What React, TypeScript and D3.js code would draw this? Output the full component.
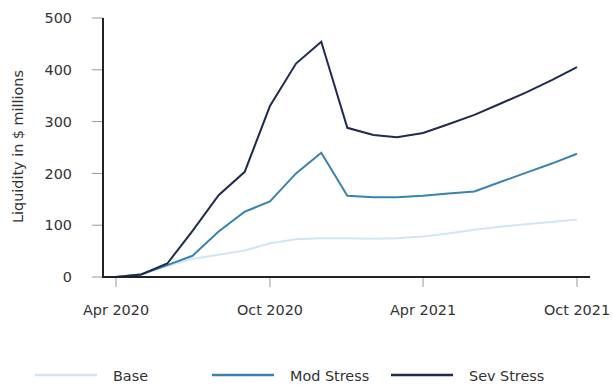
import React from "react";
import * as d3 from "d3";

// Monthly liquidity projections, Apr 2020 – Oct 2021 ($ millions)
const months: string[] = [
  "2020-04", "2020-05", "2020-06", "2020-07", "2020-08", "2020-09", "2020-10",
  "2020-11", "2020-12", "2021-01", "2021-02", "2021-03", "2021-04", "2021-05",
  "2021-06", "2021-07", "2021-08", "2021-09", "2021-10",
];
const baseValues: number[] = [0, 6, 21, 35, 43, 51, 65, 73, 75, 75, 74, 75, 78, 84, 91, 97, 102, 106, 111];
const modValues: number[] = [0, 5, 23, 41, 88, 126, 146, 200, 240, 157, 154, 154, 157, 161, 165, 183, 201, 219, 238];
const sevValues: number[] = [0, 5, 26, 89, 158, 203, 330, 412, 454, 288, 274, 270, 278, 295, 313, 334, 356, 380, 405];

const seriesNames: string[] = ["Base", "Mod Stress", "Sev Stress"];
const seriesColors: string[] = ["#cfe7f4", "#3b82b3", "#1e2b52"];
const yTicks: number[] = [0, 100, 200, 300, 400, 500];
const xTickLabels: string[] = ["Apr 2020", "Oct 2020", "Apr 2021", "Oct 2021"];
const xTickDates: string[] = ["2020-04", "2020-10", "2021-04", "2021-10"];

const W = 613;
const H = 385;
const FONT = "'DejaVu Sans', sans-serif";

export default function App() {
  const parse = d3.timeParse("%Y-%m");
  const dates = months.map((m) => parse(m) as Date);

  const x = d3
    .scaleTime()
    .domain([parse("2020-04") as Date, parse("2021-10") as Date])
    .range([116, 577]);
  const y = d3.scaleLinear().domain([0, 500]).range([277, 18]);

  const line = d3
    .line<number>()
    .x((_, i) => x(dates[i]))
    .y((v) => y(v))
    .curve(d3.curveLinear);

  const allSeries = [baseValues, modValues, sevValues];
  const axisLeft = 103;
  const axisRight = 590;

  const legendX = [35, 212, 391];

  return (
    <svg
      width={W}
      height={H}
      style={{ position: "absolute", left: 0, top: 0, background: "#fff" }}
      fontFamily={FONT}
    >
      {/* y ticks and labels */}
      {yTicks.map((t) => (
        <g key={t}>
          <line x1={92} x2={axisLeft} y1={y(t)} y2={y(t)} stroke="#999" strokeWidth={1} />
          <text
            x={72}
            y={y(t)}
            dy="0.36em"
            textAnchor="end"
            fontSize={14.4}
            fill="#333"
          >
            {t}
          </text>
        </g>
      ))}

      {/* y axis title */}
      <text
        transform={`translate(23, ${146.5}) rotate(-90)`}
        textAnchor="middle"
        fontSize={14.4}
        fill="#333"
      >
        Liquidity in $ millions
      </text>

      {/* x ticks and labels */}
      {xTickDates.map((d, i) => {
        const px = x(parse(d) as Date);
        return (
          <g key={d}>
            <line x1={px} x2={px} y1={y(0)} y2={287} stroke="#999" strokeWidth={1} />
            <text x={px} y={315} textAnchor="middle" fontSize={14.4} fill="#333">
              {xTickLabels[i]}
            </text>
          </g>
        );
      })}

      {/* series lines */}
      {allSeries.map((vals, i) => (
        <path
          key={seriesNames[i]}
          d={line(vals) || ""}
          fill="none"
          stroke={seriesColors[i]}
          strokeWidth={2}
          strokeLinejoin="miter"
        />
      ))}

      {/* axis lines */}
      <line x1={axisLeft} x2={axisLeft} y1={y(500)} y2={y(0) + 1} stroke="#222" strokeWidth={2} />
      <line x1={axisLeft - 1} x2={axisRight} y1={y(0)} y2={y(0)} stroke="#222" strokeWidth={2} />

      {/* legend */}
      {seriesNames.map((name, i) => (
        <g key={name}>
          <line
            x1={legendX[i]}
            x2={legendX[i] + 62}
            y1={375}
            y2={375}
            stroke={seriesColors[i]}
            strokeWidth={2.5}
          />
          <text x={legendX[i] + 78} y={381} fontSize={14.4} fill="#333">
            {name}
          </text>
        </g>
      ))}
    </svg>
  );
}
